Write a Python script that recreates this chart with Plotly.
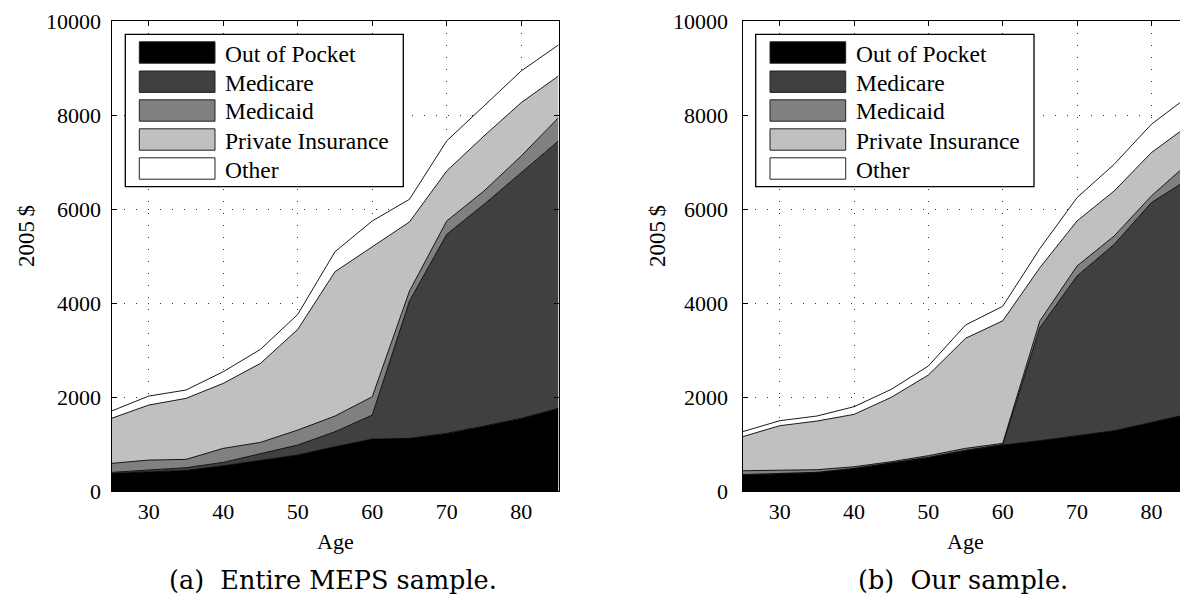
import plotly.graph_objects as go

# ---------------- data ----------------
ages = [25, 30, 35, 40, 45, 50, 55, 60, 65, 70, 75, 80, 85]
series_names = ["Out of Pocket", "Medicare", "Medicaid", "Private Insurance", "Other"]
series_colors = ["#000000", "#404040", "#808080", "#c0c0c0", "#ffffff"]

# (a) Entire MEPS sample -- per-layer values (2005 $)
a_oop      = [375, 400, 437, 537, 658, 765, 942, 1105, 1120, 1226, 1380, 1545, 1758]
a_medicare = [21, 46, 58, 72, 142, 213, 319, 511, 2923, 4236, 4720, 5229, 5690]
a_medicaid = [192, 212, 178, 298, 235, 319, 334, 390, 213, 284, 284, 355, 496]
a_private  = [958, 1171, 1298, 1383, 1681, 2142, 3071, 3191, 1469, 1064, 1170, 1135, 887]
a_other    = [155, 191, 177, 248, 298, 319, 425, 548, 482, 640, 639, 674, 660]

# (b) Our sample -- per-layer values (2005 $)
b_oop      = [340, 360, 389, 474, 587, 708, 857, 978, 1070, 1169, 1282, 1460, 1640]
b_medicare = [10, 10, 9, 8, 8, 9, 11, 12, 2405, 3406, 3967, 4676, 5000]
b_medicaid = [81, 69, 55, 34, 28, 34, 39, 23, 143, 213, 177, 142, 340]
b_private  = [724, 950, 1035, 1114, 1369, 1716, 2341, 2607, 1134, 958, 958, 922, 800]
b_other    = [106, 106, 107, 163, 170, 192, 283, 310, 405, 496, 568, 603, 620]

x_ticks = [30, 40, 50, 60, 70, 80]
y_ticks = [0, 2000, 4000, 6000, 8000, 10000]
captions = ["(a)  Entire MEPS sample.", "(b)  Our sample."]
x_title = "Age"
y_title = "2005\u2009$"

SERIF = "Liberation Serif, Times New Roman, Times, serif"
CAPSERIF = "DejaVu Serif, serif"

W, H = 1180, 597
def px(x):
    return x / W
def py(y):
    return 1 - y / H

fig = go.Figure()

panels = [
    ("x", "y", "L", [a_oop, a_medicare, a_medicaid, a_private, a_other]),
    ("x2", "y2", "R", [b_oop, b_medicare, b_medicaid, b_private, b_other]),
]
for xa, ya, grp, layers in panels:
    for name, col, vals in zip(series_names, series_colors, layers):
        fig.add_trace(go.Scatter(
            x=ages, y=vals, name=name, xaxis=xa, yaxis=ya,
            stackgroup=grp, mode="lines",
            line=dict(color="#000000", width=0.9),
            fillcolor=col, showlegend=False, hoverinfo="skip",
        ))

tick_font = dict(family=SERIF, size=22, color="#000")
common_x = dict(
    tickvals=x_ticks, ticks="inside", ticklen=5, tickcolor="#000",
    showline=True, linecolor="#000", linewidth=1, mirror="ticks",
    showgrid=True, gridcolor="#333", gridwidth=1, griddash="1px,11px",
    zeroline=False, tickfont=tick_font, ticklabelstandoff=1, automargin=False,
)
common_y = dict(
    range=[0, 10000], tickvals=y_ticks, tickformat="d",
    ticks="inside", ticklen=5, tickcolor="#000",
    showline=True, linecolor="#000", linewidth=1,
    showgrid=True, gridcolor="#333", gridwidth=1, griddash="1px,11px",
    zeroline=False, tickfont=tick_font, automargin=False,
)
ydom = [py(491), py(21)]
fig.update_layout(
    width=W, height=H, autosize=False,
    margin=dict(l=0, r=0, t=0, b=0, pad=0),
    paper_bgcolor="white", plot_bgcolor="white",
    showlegend=False,
    xaxis=dict(domain=[px(111.5), px(558.5)], range=[25, 85], anchor="y", **common_x),
    yaxis=dict(domain=ydom, anchor="x", mirror="ticks", ticklabelstandoff=5, **common_y),
    xaxis2=dict(domain=[px(742.5), 1.0], range=[25, 83.85], anchor="y2", **common_x),
    yaxis2=dict(domain=ydom, anchor="x2", mirror=False, ticklabelstandoff=9, **common_y),
)

shapes = []
annotations = []
# manual legends (box, swatches, labels)
legend_specs = [
    dict(box=(125.3, 403.3), sw=(139.3, 215.0), tx=223.3),
    dict(box=(755.7, 1034.0), sw=(770.0, 845.7), tx=854.0),
]
sw_centers = [52.5, 81.7, 110.5, 139.5, 168.5]
for spec in legend_specs:
    bx0, bx1 = spec["box"]
    shapes.append(dict(type="rect", xref="paper", yref="paper",
                       x0=px(bx0), x1=px(bx1), y0=py(186.7), y1=py(34.3),
                       fillcolor="white", line=dict(color="#000", width=1.3), layer="above"))
    for name, col, cy in zip(series_names, series_colors, sw_centers):
        shapes.append(dict(type="rect", xref="paper", yref="paper",
                           x0=px(spec["sw"][0]), x1=px(spec["sw"][1]),
                           y0=py(cy + 10.7), y1=py(cy - 10.7),
                           fillcolor=col, line=dict(color="#222", width=1), layer="above"))
        annotations.append(dict(text=name, xref="paper", yref="paper",
                                x=px(spec["tx"]), y=py(cy + 1), xanchor="left", yanchor="middle",
                                showarrow=False,
                                font=dict(family=SERIF, size=23.5, color="#000")))

# axis titles and captions
for xc, ylab_x, cap in [(335.0, 26.0, captions[0]), (965.0, 657.0, captions[1])]:
    annotations.append(dict(text=x_title, xref="paper", yref="paper", x=px(xc), y=py(541),
                            xanchor="center", yanchor="middle", showarrow=False,
                            font=dict(family=SERIF, size=22, color="#000")))
    annotations.append(dict(text=y_title, xref="paper", yref="paper", x=px(ylab_x), y=py(236),
                            xanchor="center", yanchor="middle", textangle=-90, showarrow=False,
                            font=dict(family=SERIF, size=23, color="#000")))
    annotations.append(dict(text=cap, xref="paper", yref="paper", x=px(xc - 2), y=py(580),
                            xanchor="center", yanchor="middle", showarrow=False,
                            font=dict(family=CAPSERIF, size=25.5, color="#000")))

fig.update_layout(shapes=shapes, annotations=annotations)
fig.write_html(
    "out.html",
    config={"responsive": False, "displayModeBar": False},
    post_script="document.body.style.margin='0';document.body.style.overflow='hidden';",
)
